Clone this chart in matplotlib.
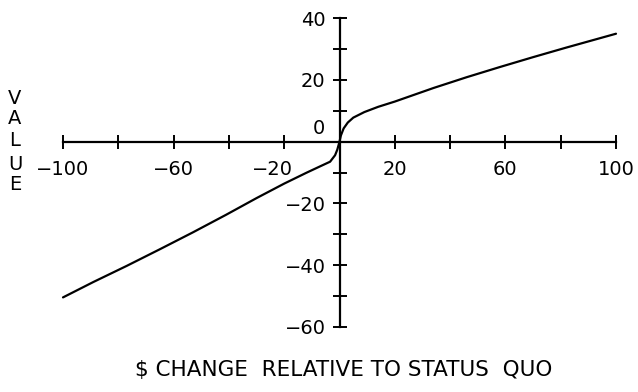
import matplotlib
matplotlib.use("Agg")
import matplotlib.pyplot as plt
import matplotlib.transforms as mtransforms

# Value function
gain_x = [0, 0.5, 1.5, 3, 5, 9, 14, 20, 34, 46, 58, 70, 82, 100]
gain_v = [0, 2.0, 4.3, 6.2, 7.8, 9.6, 11.3, 13.0, 17.4, 20.9, 24.2, 27.4, 30.5, 35.0]
loss_x = [-100, -89, -77, -65, -53, -41, -30, -20, -12, -7, -3.4, -1.6, -0.8, -0.3]
loss_v = [-50.5, -45.5, -40.3, -34.9, -29.4, -23.7, -18.3, -13.6, -10.1, -8.0, -6.5, -4.4, -2.6, -1.0]

x_ticks = [-100, -80, -60, -40, -20, 0, 20, 40, 60, 80, 100]
x_labeled = [-100, -60, -20, 20, 60, 100]
y_ticks = [-60, -50, -40, -30, -20, -10, 0, 10, 20, 30, 40]
y_labeled = [-60, -40, -20, 20, 40]


def fmt(t):
    return str(t).replace("-", "\u2212")


W, H = 638, 392
fig = plt.figure(figsize=(W / 100, H / 100), dpi=100)
left, right = 63 / W, 616 / W
top, bottom = 1 - 18.3 / H, 1 - 326.7 / H
ax = fig.add_axes([left, bottom, right - left, top - bottom])

ax.plot(loss_x + gain_x, loss_v + gain_v, color="black", lw=1.6,
        solid_capstyle="round", solid_joinstyle="round", clip_on=False)

ax.set_xlim(-100, 100)
ax.set_ylim(-60, 40)
for s in ["top", "right"]:
    ax.spines[s].set_visible(False)
ax.spines["left"].set_position(("data", 0))
ax.spines["bottom"].set_position(("data", 0))
ax.spines["left"].set_linewidth(1.6)
ax.spines["bottom"].set_linewidth(1.6)

ax.set_xticks(x_ticks)
ax.set_xticklabels(["" if t not in x_labeled else fmt(t) for t in x_ticks])
ax.set_yticks(y_ticks)
ax.set_yticklabels(["" if t not in y_labeled else fmt(t) for t in y_ticks])
ax.tick_params(axis="both", direction="inout", length=10, width=1.4,
               labelsize=14, color="black")
ax.tick_params(axis="x", pad=8)
ax.tick_params(axis="y", pad=5)

# nudge the "-20" x label left, as in the reference
for lbl, t in zip(ax.get_xticklabels(), x_ticks):
    if t == -20:
        lbl.set_transform(lbl.get_transform() +
                          mtransforms.ScaledTranslation(-12 / 100, 0, fig.dpi_scale_trans))

# raised "0" label on the y axis
ax.annotate("0", xy=(0, 0), xycoords="data", xytext=(-14.5, 13), textcoords="offset pixels",
            ha="right", va="center", fontsize=14)

# stacked "VALUE" label
for ch, yc in zip("VALUE", [99, 118, 141, 164, 185]):
    fig.text(15 / W, 1 - yc / H, ch, ha="center", va="center", fontsize=14)

fig.text(344 / W, 1 - 370 / H, "$ CHANGE  RELATIVE TO STATUS  QUO",
         ha="center", va="center", fontsize=15.5)

fig.savefig("out.png", dpi=100)
